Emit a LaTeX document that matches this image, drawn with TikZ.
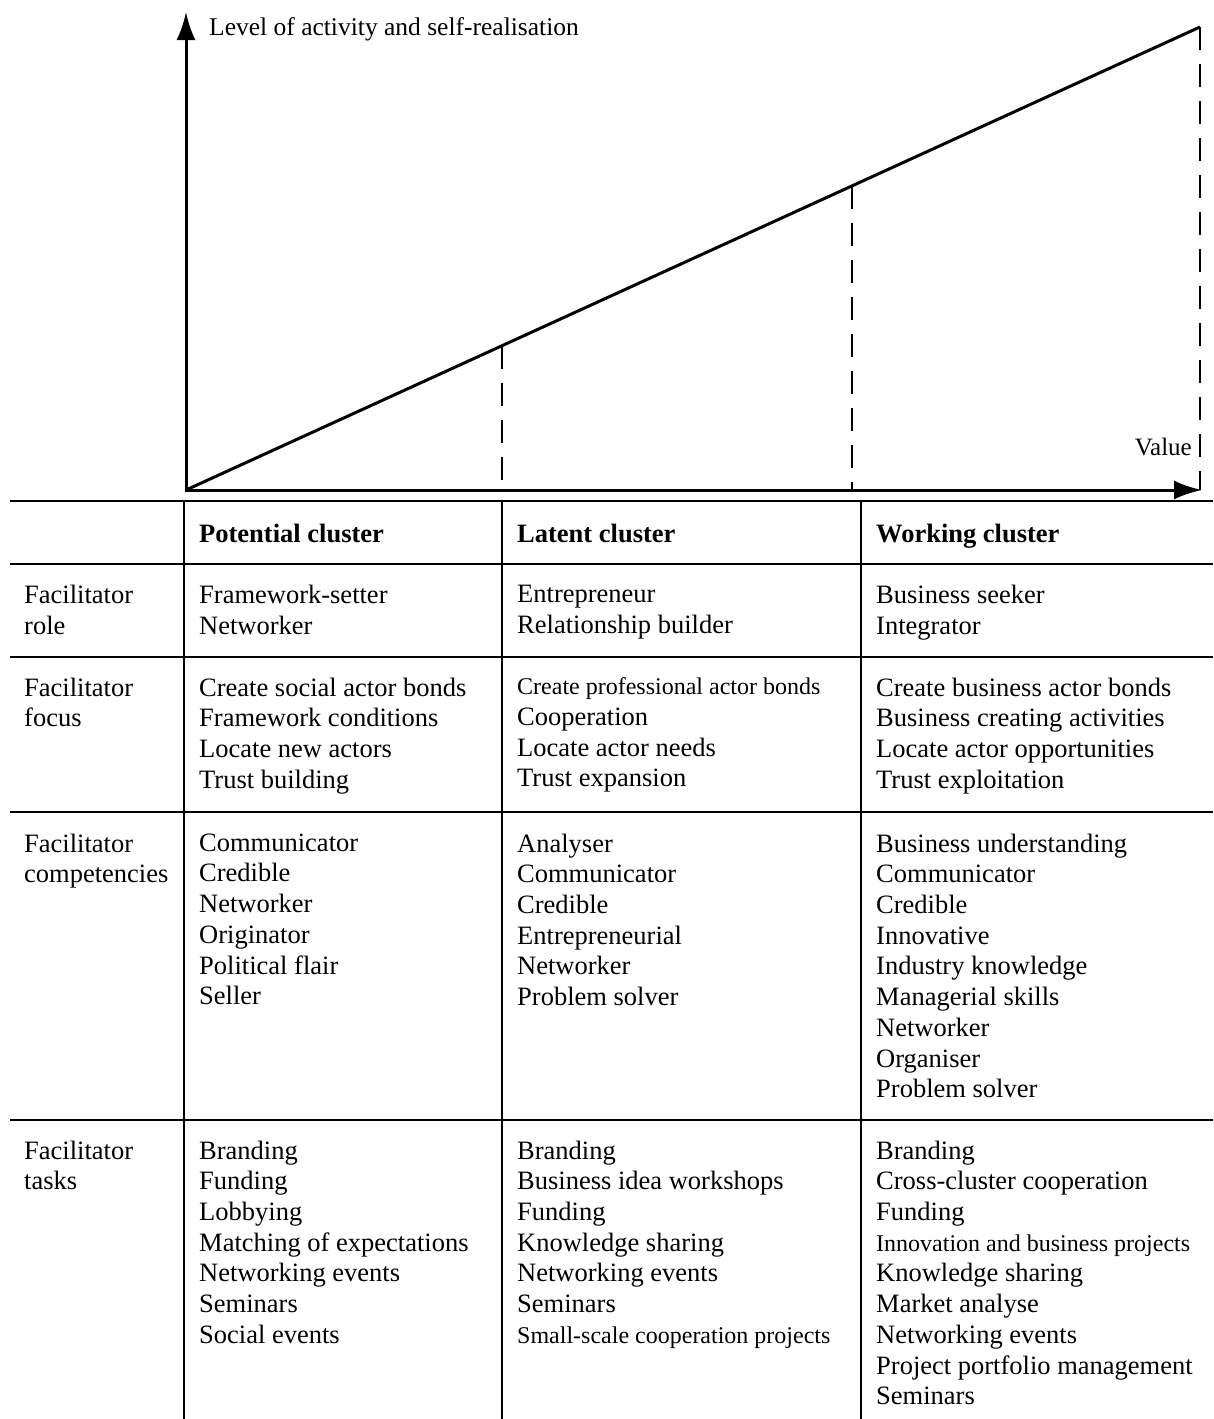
\documentclass[tikz,border=0pt]{standalone}
\usepackage{fontspec}
\setmainfont{Liberation Serif}
\usetikzlibrary{arrows.meta}
\newcommand\smallrow{\fontsize{24}{30.7}\selectfont}

\begin{document}
\begin{tikzpicture}[x=1pt,y=-1pt,inner sep=0pt,
  cell/.style={anchor=north west,align=left,font=\fontsize{26.5}{30.7}\selectfont,execute at begin node=\strut},
  head/.style={cell,font=\fontsize{26.5}{30.7}\selectfont\bfseries},
  axisline/.style={line width=3pt,-{Latex[length=28pt,width=19pt]}},
  dropline/.style={line width=2.8pt,dash pattern=on 23pt off 14pt},
  tabrule/.style={line width=2.4pt}]
\useasboundingbox (0,0) rectangle (1213,1419);
% graph
\coordinate (o) at (186,490);
\coordinate (ytip) at (186,12);
\coordinate (xtip) at (1202,490);
\coordinate (top) at (1200,27);
\coordinate (d1) at (502,345.7);
\coordinate (d2) at (852,185.9);
\coordinate (e1) at (502,490);
\coordinate (e2) at (852,490);
\coordinate (e3) at (1200,490);
\draw[axisline] (186,491.5) -- (ytip);
\draw[axisline] (o) -- (xtip);
\draw[line width=3pt,line join=round] (o) -- (top);
\draw[dropline] (d1) -- (e1) (d2) -- (e2) (top) -- (e3);
\node[anchor=base west,font=\fontsize{25.5}{30}\selectfont] (ylab) at (209,35) {Level of activity and self-realisation};
\node[anchor=base east,font=\fontsize{25}{30}\selectfont] (xlab) at (1192,455) {Value};
% table rules
\draw[tabrule] (10,501) -- (1213,501) (10,564) -- (1213,564) (10,657) -- (1213,657)
 (10,812) -- (1213,812) (10,1120) -- (1213,1120);
\draw[tabrule] (184,501) -- (184,1419) (502,501) -- (502,1419) (861,501) -- (861,1419);
% header
\node[head] (hp) at (199,520.5) {Potential cluster};
\node[head] (hl) at (517,520.5) {Latent cluster};
\node[head] (hw) at (876,520.5) {Working cluster};
% role
\node[cell] (r0) at (24,585) {Facilitator\\role};
\node[cell] (r1) at (199,585) {Framework-setter\\Networker};
\node[cell] (r2) at (517,585) {Entrepreneur\\Relationship builder};
\node[cell] (r3) at (876,585) {Business seeker\\Integrator};
% focus
\node[cell] (f0) at (24,677.5) {Facilitator\\focus};
\node[cell] (f1) at (199,677.5) {Create social actor bonds\\Framework conditions\\Locate new actors\\Trust building};
\node[cell] (f2) at (517,677.5) {{\smallrow Create professional actor bonds}\\Cooperation\\Locate actor needs\\Trust expansion};
\node[cell] (f3) at (876,677.5) {Create business actor bonds\\Business creating activities\\Locate actor opportunities\\Trust exploitation};
% competencies
\node[cell] (c0) at (24,833.5) {Facilitator\\competencies};
\node[cell] (c1) at (199,833.5) {Communicator\\Credible\\Networker\\Originator\\Political flair\\Seller};
\node[cell] (c2) at (517,833.5) {Analyser\\Communicator\\Credible\\Entrepreneurial\\Networker\\Problem solver};
\node[cell] (c3) at (876,833.5) {Business understanding\\Communicator\\Credible\\Innovative\\Industry knowledge\\Managerial skills\\Networker\\Organiser\\Problem solver};
% tasks
\node[cell] (t0) at (24,1140.5) {Facilitator\\tasks};
\node[cell] (t1) at (199,1140.5) {Branding\\Funding\\Lobbying\\Matching of expectations\\Networking events\\Seminars\\Social events};
\node[cell] (t2) at (517,1140.5) {Branding\\Business idea workshops\\Funding\\Knowledge sharing\\Networking events\\Seminars\\{\smallrow Small-scale cooperation projects}};
\node[cell] (t3) at (876,1140.5) {Branding\\Cross-cluster cooperation\\Funding\\{\smallrow Innovation and business projects}\\Knowledge sharing\\Market analyse\\Networking events\\Project portfolio management\\Seminars};
\end{tikzpicture}
\end{document}
